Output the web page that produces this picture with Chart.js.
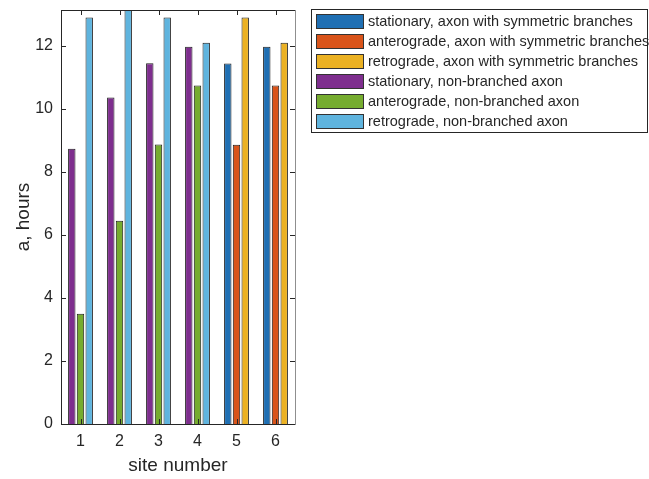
<!DOCTYPE html>
<html>
<head>
<meta charset="utf-8">
<script src="https://cdn.jsdelivr.net/npm/chart.js@4/dist/chart.umd.min.js"></script>
<style>
  html, body { margin: 0; padding: 0; background: #ffffff; }
  #wrap { width: 649px; height: 479px; }
</style>
</head>
<body>
<div id="wrap"><canvas id="chart" width="649" height="479"></canvas></div>
<script>
// Site labels along the x axis
const sites = ['1', '2', '3', '4', '5', '6'];

// Time a (hours) per site, axon with symmetric branches
const stationarySym = [null, null, null, null, 11.44, 11.97];
const anterogradeSym = [null, null, null, null, 8.86, 10.74];
const retrogradeSym = [null, null, null, null, 12.9, 12.1];

// Time a (hours) per site, non-branched axon
const stationaryNon = [8.74, 10.36, 11.45, 11.97, null, null];
const anterogradeNon = [3.5, 6.45, 8.87, 10.74, null, null];
const retrogradeNon = [12.9, 13.6, 12.9, 12.1, null, null];

// Y axis tick values
const yTicks = [0, 2, 4, 6, 8, 10, 12];

const seriesNames = [
  'stationary, axon with symmetric branches',
  'anterograde, axon with symmetric branches',
  'retrograde, axon with symmetric branches',
  'stationary, non-branched axon',
  'anterograde, non-branched axon',
  'retrograde, non-branched axon'
];
const seriesValues = [stationarySym, anterogradeSym, retrogradeSym, stationaryNon, anterogradeNon, retrogradeNon];
const seriesColors = ['#1f6fb3', '#d9541a', '#ebb123', '#7e2e8e', '#76ac2f', '#5fb4de'];

const FONT = '"Liberation Sans", Arial, Helvetica, sans-serif';
const INK = '#262626';

// Box around the axes with inward-pointing tick marks
const axesBox = {
  id: 'axesBox',
  afterDatasetsDraw(chart) {
    const { ctx, chartArea: a } = chart;
    const xs = chart.scales.x, ys = chart.scales.y;
    const len = 5;
    ctx.save();
    ctx.lineWidth = 1;
    ctx.strokeStyle = INK;
    ctx.beginPath();
    xs.ticks.forEach((t, i) => {
      const px = Math.round(xs.getPixelForTick(i)) + 0.5;
      ctx.moveTo(px, a.bottom); ctx.lineTo(px, a.bottom - len);
      ctx.moveTo(px, a.top); ctx.lineTo(px, a.top + len);
    });
    ys.ticks.forEach(t => {
      const py = Math.round(ys.getPixelForValue(t.value)) + 0.5;
      ctx.moveTo(a.left, py); ctx.lineTo(a.left + len, py);
      ctx.moveTo(a.right, py); ctx.lineTo(a.right - len, py);
    });
    ctx.stroke();
    ctx.beginPath();
    ctx.moveTo(a.left + 0.5, a.top + 0.5);
    ctx.lineTo(a.right, a.top + 0.5);
    ctx.moveTo(a.left + 0.5, a.top);
    ctx.lineTo(a.left + 0.5, a.bottom + 0.5);
    ctx.lineTo(a.right, a.bottom + 0.5);
    ctx.stroke();
    ctx.strokeStyle = '#8f8f8f';
    ctx.beginPath();
    ctx.moveTo(a.right + 0.5, a.top);
    ctx.lineTo(a.right + 0.5, a.bottom + 1);
    ctx.stroke();
    ctx.restore();
  }
};

// Boxed legend to the right of the axes
const boxLegend = {
  id: 'boxLegend',
  afterDraw(chart) {
    const { ctx } = chart;
    const x0 = 311, y0 = 9, w = 336, h = 123;
    ctx.save();
    ctx.fillStyle = '#ffffff';
    ctx.fillRect(x0, y0, w, h);
    ctx.strokeStyle = INK;
    ctx.lineWidth = 1;
    ctx.strokeRect(x0 + 0.5, y0 + 0.5, w, h);
    ctx.font = '14.5px ' + FONT;
    ctx.textBaseline = 'middle';
    chart.data.datasets.forEach((ds, i) => {
      const cy = y0 + 12.5 + i * 20;
      ctx.fillStyle = ds.backgroundColor;
      ctx.fillRect(316, cy - 7.5, 48, 15);
      ctx.strokeStyle = '#333333';
      ctx.strokeRect(316.5, cy - 7, 47, 14);
      ctx.fillStyle = INK;
      ctx.fillText(ds.label, 368, cy + 0.5);
    });
    ctx.restore();
  }
};

new Chart(document.getElementById('chart'), {
  type: 'bar',
  data: {
    labels: sites,
    datasets: seriesNames.map((name, i) => ({
      label: name,
      data: seriesValues[i],
      backgroundColor: seriesColors[i],
      borderColor: '#1e1e1e',
      borderWidth: 1,
      skipNull: true,
      categoryPercentage: 0.67,
      barPercentage: 0.85,
      clip: 0
    }))
  },
  options: {
    responsive: false,
    animation: false,
    devicePixelRatio: 1,
    layout: { padding: { left: 0, top: 10, right: 354, bottom: 0 } },
    plugins: { legend: { display: false }, tooltip: { enabled: false } },
    scales: {
      x: {
        type: 'category',
        offset: true,
        grid: { display: false, drawTicks: false },
        border: { display: false },
        ticks: { color: INK, font: { family: FONT, size: 16 }, padding: 8, maxRotation: 0 },
        title: { display: true, text: 'site number', color: INK, font: { family: FONT, size: 19 }, padding: { top: 0, bottom: 2 } },
        afterFit(scale) { scale.height = 55; scale.paddingLeft = 0; scale.paddingRight = 0; }
      },
      y: {
        min: 0,
        max: 13.14,
        grid: { display: false, drawTicks: false },
        border: { display: false },
        afterBuildTicks(scale) { scale.ticks = yTicks.map(v => ({ value: v })); },
        ticks: { color: INK, font: { family: FONT, size: 16 }, padding: 8 },
        title: { display: true, text: 'a, hours', color: INK, font: { family: FONT, size: 19 }, padding: { top: 12, bottom: 0 } },
        afterFit(scale) { scale.width = 61; scale.paddingTop = 0; scale.paddingBottom = 0; }
      }
    }
  },
  plugins: [axesBox, boxLegend]
});
</script>
</body>
</html>
